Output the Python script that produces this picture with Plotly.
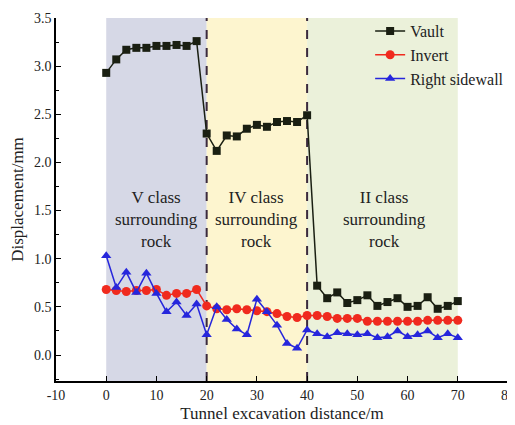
import plotly.graph_objects as go

distance = list(range(0, 72, 2))
vault = [2.93, 3.07, 3.17, 3.19, 3.19, 3.21, 3.21, 3.22, 3.21, 3.26,
         2.30, 2.12, 2.28, 2.27, 2.35, 2.39, 2.37, 2.42, 2.43, 2.42,
         2.49, 0.72, 0.59, 0.65, 0.54, 0.57, 0.62, 0.51, 0.55, 0.59,
         0.50, 0.51, 0.60, 0.48, 0.51, 0.56]
invert = [0.68, 0.67, 0.66, 0.67, 0.67, 0.68, 0.62, 0.64, 0.64, 0.68,
          0.51, 0.48, 0.47, 0.48, 0.47, 0.46, 0.45, 0.43, 0.40, 0.39,
          0.41, 0.41, 0.40, 0.38, 0.38, 0.38, 0.35, 0.35, 0.35, 0.35,
          0.35, 0.35, 0.36, 0.36, 0.36, 0.36]
sidewall = [1.03, 0.70, 0.86, 0.65, 0.85, 0.64, 0.45, 0.55, 0.41, 0.53,
            0.21, 0.50, 0.37, 0.27, 0.21, 0.58, 0.45, 0.31, 0.12, 0.07,
            0.26, 0.22, 0.19, 0.23, 0.22, 0.21, 0.22, 0.18, 0.19, 0.25,
            0.19, 0.21, 0.25, 0.18, 0.22, 0.18]

x_ticks = [-10, 0, 10, 20, 30, 40, 50, 60, 70, 80]
x_tick_labels = ["-10", "0", "10", "20", "30", "40", "50", "60", "70", "80"]

zones = [(0, 20, "#d6d8e6", "V class<br>surrounding<br>rock", 10),
         (20, 40, "#fdf5cf", "IV class<br>surrounding<br>rock", 30),
         (40, 70, "#ebf1da", "II class<br>surrounding<br>rock", 55.5)]
boundaries = [20, 40]

FONT = "Liberation Serif, Times New Roman, serif"

fig = go.Figure()

for x0, x1, col, label, xc in zones:
    fig.add_shape(type="rect", xref="x", yref="paper", x0=x0, x1=x1, y0=0, y1=1,
                  fillcolor=col, line_width=0, layer="below")
    fig.add_annotation(x=xc, y=1.41, xref="x", yref="y", text=label, showarrow=False,
                       font=dict(family=FONT, size=17, color="#222222"), align="center")

for b in boundaries:
    fig.add_shape(type="line", xref="x", yref="paper", x0=b, x1=b, y0=0, y1=1,
                  line=dict(color="#3b2a3e", width=2, dash="dash"), layer="below")

fig.add_trace(go.Scatter(x=distance, y=vault, name="Vault", mode="lines+markers",
                         line=dict(color="#1a1f12", width=1.5),
                         marker=dict(symbol="square", size=8, color="#1a1f12")))
fig.add_trace(go.Scatter(x=distance, y=invert, name="Invert", mode="lines+markers",
                         line=dict(color="#f02a1e", width=1.5),
                         marker=dict(symbol="circle", size=9, color="#f02a1e")))
fig.add_trace(go.Scatter(x=distance, y=sidewall, name="Right sidewall", mode="lines+markers",
                         line=dict(color="#2626dc", width=1.5),
                         marker=dict(symbol="triangle-up", size=9, color="#2626dc")))

axis_common = dict(showline=True, linecolor="black", linewidth=1.5, ticks="inside",
                   ticklen=5, tickcolor="black", showgrid=False, zeroline=False, mirror=False,
                   automargin=False, ticklabeloverflow="allow",
                   tickfont=dict(family=FONT, size=14, color="#222222"))

# page body has an 8px default margin, so the figure is drawn at (8, 8)
fig.update_layout(
    width=507, height=417,
    margin=dict(l=48, r=6, t=7, b=44),
    plot_bgcolor="white", paper_bgcolor="white",
    font=dict(family=FONT, color="#222222"),
    xaxis=dict(range=[-10, 80], tickvals=x_ticks, ticktext=x_tick_labels,
               title=dict(text="Tunnel excavation distance/m", font=dict(family=FONT, size=17), standoff=6),
               **axis_common),
    yaxis=dict(range=[-0.27, 3.5], dtick=0.5, tick0=0, tickformat=".1f",
               minor=dict(ticks="inside", ticklen=3, dtick=0.25, tick0=0, tickcolor="black"),
               title=dict(text="Displacement/mm", font=dict(family=FONT, size=17), standoff=6),
               **axis_common),
    legend=dict(x=0.695, y=1.011, xanchor="left", yanchor="top", bgcolor="rgba(0,0,0,0)",
                font=dict(family=FONT, size=16, color="#222222"), tracegroupgap=0,
                itemwidth=30),
    showlegend=True,
)

fig.write_html("out.html")
